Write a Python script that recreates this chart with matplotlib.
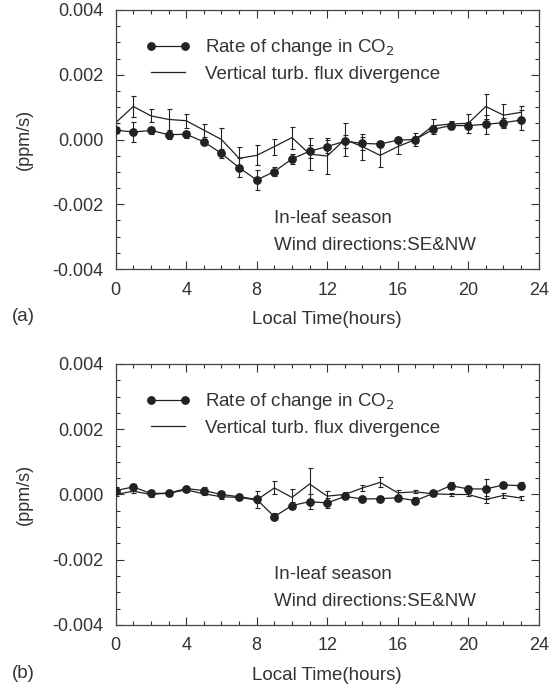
import matplotlib
matplotlib.use('Agg')
import matplotlib.pyplot as plt
from matplotlib.ticker import MultipleLocator, FormatStrFormatter
from matplotlib.lines import Line2D
import numpy as np

plt.rcParams['font.family'] = ['Liberation Sans', 'DejaVu Sans']
plt.rcParams['axes.unicode_minus'] = False

hours = np.arange(24)

# (a) 数据
rate_a = [0.00029, 0.00023, 0.00028, 0.00015, 0.00016, -0.00007, -0.00043, -0.00087,
          -0.00125, -0.00099, -0.00060, -0.00036, -0.00022, -0.00005, -0.00012, -0.00014,
          -0.00002, 0.00000, 0.00031, 0.00043, 0.00043, 0.00047, 0.00052, 0.00060]
rate_a_err = [0.00010, 0.00030, 0.00010, 0.00012, 0.00010, 0.00010, 0.00013, 0.00030,
              0.00030, 0.00013, 0.00015, 0.00020, 0.00020, 0.00020, 0.00020, 0.00010,
              0.00010, 0.00010, 0.00015, 0.00010, 0.00010, 0.00030, 0.00015, 0.00030]
flux_a = [0.00052, 0.00102, 0.00073, 0.00062, 0.00058, 0.00029, 0.00000, -0.00058,
          -0.00049, -0.00022, 0.00006, -0.00045, -0.00051, 0.00000, -0.00022, -0.00049,
          -0.00022, 0.00000, 0.00042, 0.00048, 0.00050, 0.00102, 0.00075, 0.00084]
flux_a_err = [0.00000, 0.00032, 0.00020, 0.00032, 0.00022, 0.00020, 0.00035, 0.00036,
              0.00031, 0.00025, 0.00034, 0.00050, 0.00055, 0.00050, 0.00040, 0.00036,
              0.00024, 0.00020, 0.00020, 0.00010, 0.00030, 0.00040, 0.00035, 0.00018]

# (b) 数据
rate_b = [0.00012, 0.00023, 0.00003, 0.00004, 0.00018, 0.00012, 0.00000, -0.00007,
          -0.00015, -0.00068, -0.00034, -0.00022, -0.00026, -0.00006, -0.00014, -0.00013,
          -0.00010, -0.00019, 0.00003, 0.00027, 0.00017, 0.00017, 0.00029, 0.00027]
rate_b_err = [0.00010, 0.00010, 0.00010, 0.00008, 0.00008, 0.00010, 0.00010, 0.00008,
              0.00025, 0.00010, 0.00012, 0.00022, 0.00015, 0.00008, 0.00008, 0.00008,
              0.00008, 0.00010, 0.00008, 0.00010, 0.00010, 0.00030, 0.00010, 0.00010]
flux_b = [0.00000, 0.00010, 0.00000, 0.00004, 0.00014, 0.00002, -0.00007, -0.00009,
          -0.00017, 0.00020, -0.00009, 0.00032, -0.00005, 0.00000, 0.00020, 0.00037,
          0.00005, 0.00008, 0.00002, 0.00000, 0.00000, -0.00015, -0.00003, -0.00011]
flux_b_err = [0.00005, 0.00005, 0.00005, 0.00005, 0.00005, 0.00005, 0.00008, 0.00005,
              0.00010, 0.00020, 0.00025, 0.00050, 0.00015, 0.00008, 0.00010, 0.00015,
              0.00010, 0.00005, 0.00005, 0.00005, 0.00005, 0.00010, 0.00007, 0.00005]

line_c = '#222222'
text_c = '#333333'
fs = 13

fig = plt.figure(figsize=(5.6, 6.84), dpi=100)
ax_a = fig.add_axes([0.2066, 0.6067, 0.7554, 0.3787])
ax_b = fig.add_axes([0.2066, 0.0863, 0.7554, 0.3816])


def draw(ax, rate, rate_err, flux, flux_err, tag):
    ax.errorbar(hours, flux, yerr=flux_err, color=line_c, lw=0.9, elinewidth=0.8,
                capsize=1.8, capthick=0.8, zorder=2)
    ax.errorbar(hours, rate, yerr=rate_err, color=line_c, lw=0.9, elinewidth=0.8,
                capsize=1.8, capthick=0.8, marker='o', ms=5.3, zorder=3)
    ax.set_xlim(0, 24)
    ax.set_ylim(-0.004, 0.004)
    ax.xaxis.set_major_locator(MultipleLocator(4))
    ax.xaxis.set_minor_locator(MultipleLocator(1))
    ax.yaxis.set_major_locator(MultipleLocator(0.002))
    ax.yaxis.set_minor_locator(MultipleLocator(0.0005))
    ax.yaxis.set_major_formatter(FormatStrFormatter('%.3f'))
    ax.tick_params(which='both', direction='in', top=True, right=True,
                   colors=text_c, labelsize=fs, width=0.8)
    ax.tick_params(which='major', length=6, pad=9)
    ax.tick_params(which='minor', length=3)
    for s in ax.spines.values():
        s.set_color('#444444')
        s.set_linewidth(0.9)
    ax.set_ylabel('(ppm/s)', fontsize=fs, color=text_c, labelpad=14)
    ax.set_xlabel('Local Time(hours)', fontsize=fs + 0.5, color=text_c, labelpad=9)

    handles = [Line2D([], [], color=line_c, lw=0.9, marker='o', ms=5.3),
               Line2D([], [], color=line_c, lw=0.9)]
    labels = ['Rate of change in CO$_2$', 'Vertical turb. flux divergence']
    ax.legend(handles, labels, loc='upper left', bbox_to_anchor=(0.03, 0.96),
              frameon=False, numpoints=2, fontsize=fs + 0.5, handlelength=2.4,
              handletextpad=0.8, labelspacing=0.4, labelcolor=text_c)
    ax.text(0.375, 0.195, 'In-leaf season', transform=ax.transAxes,
            fontsize=fs + 0.5, color=text_c, va='center')
    ax.text(0.375, 0.09, 'Wind directions:SE&NW', transform=ax.transAxes,
            fontsize=fs + 0.5, color=text_c, va='center')
    ax.text(-0.245, -0.185, tag, transform=ax.transAxes, fontsize=fs + 0.5,
            color=text_c, va='center')


draw(ax_a, rate_a, rate_a_err, flux_a, flux_a_err, '(a)')
draw(ax_b, rate_b, rate_b_err, flux_b, flux_b_err, '(b)')

fig.savefig('out.png', dpi=100, facecolor='white')
plt.close(fig)
